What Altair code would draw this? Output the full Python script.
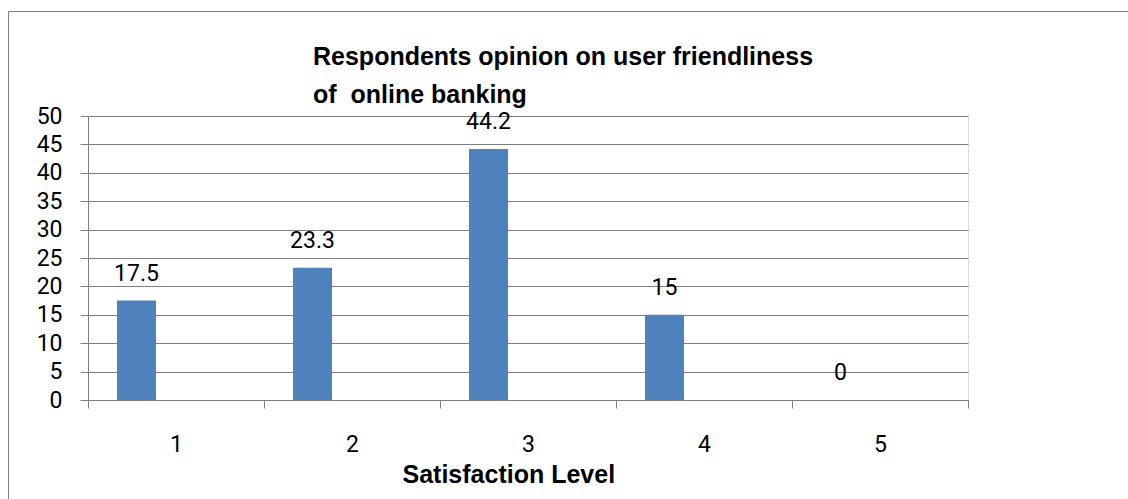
import altair as alt
import pandas as pd

levels = ["1", "2", "3", "4", "5"]
values = [17.5, 23.3, 44.2, 15, 0]
y_ticks = [0, 5, 10, 15, 20, 25, 30, 35, 40, 45, 50]
title_lines = ["Respondents opinion on user friendliness", "of\u00a0 online banking"]
x_title = "Satisfaction Level"

df = pd.DataFrame({"level": levels, "value": values})

GRAY = "#808080"
NUM_FONT = "Roboto"
TITLE_FONT = "Liberation Sans"

x_enc = alt.X(
    "level:O",
    sort=levels,
    scale=alt.Scale(paddingInner=0, paddingOuter=0),
    axis=alt.Axis(
        title=x_title,
        titleFont=TITLE_FONT,
        titleFontSize=25,
        titleFontWeight="bold",
        titleColor="black",
        titleAnchor="start",
        titleAlign="left",
        titleBaseline="alphabetic",
        titleX=314,
        titleY=82,
        labelAngle=0,
        labelFont=NUM_FONT,
        labelFontSize=23,
        labelColor="black",
        labelPadding=25,
        tickBand="extent",
        tickSize=8,
        tickColor=GRAY,
        domainColor=GRAY,
        grid=False,
    ),
)

y_enc = alt.Y(
    "value:Q",
    scale=alt.Scale(domain=[0, 50], nice=False, zero=True),
    axis=alt.Axis(
        title=None,
        values=y_ticks,
        labelFont=NUM_FONT,
        labelFontSize=23,
        labelColor="black",
        labelPadding=18,
        labelFlush=False,
        labelOverlap=False,
        tickSize=8,
        tickColor=GRAY,
        domainColor=GRAY,
        gridColor=GRAY,
        grid=True,
    ),
)

border = alt.Chart(pd.DataFrame({"a": [0]})).mark_rect(
    fill=None, stroke=GRAY, strokeWidth=1
).encode(
    x=alt.value(-79.5),
    x2=alt.value(1070),
    y=alt.value(-104.5),
    y2=alt.value(395),
)

title_text = alt.Chart(pd.DataFrame({"a": [0]})).mark_text(
    align="left", baseline="alphabetic", font=TITLE_FONT, fontSize=25,
    fontWeight="bold", color="black", lineHeight=38
).encode(
    x=alt.value(225),
    y=alt.value(-51),
    text=alt.value(title_lines),
)

base = alt.Chart(df)

bars = base.mark_bar(size=39, xOffset=-39.5, color="#4F81BD").encode(x=x_enc, y=y_enc)

labels = base.mark_text(
    xOffset=-39.5, dy=-20, baseline="alphabetic", align="center",
    font=NUM_FONT, fontSize=23, color="black"
).encode(x=x_enc, y=y_enc, text=alt.Text("value:Q"))

chart = alt.layer(border, bars, labels, title_text).properties(
    width=880,
    height=284,
    autosize=alt.AutoSizeParams(type="none"),
    padding={"left": 88, "top": 116, "right": 160, "bottom": 99},
).configure_view(stroke=None).configure(background="white")

chart.save("out.html", embed_options={"renderer": "svg", "actions": False})
